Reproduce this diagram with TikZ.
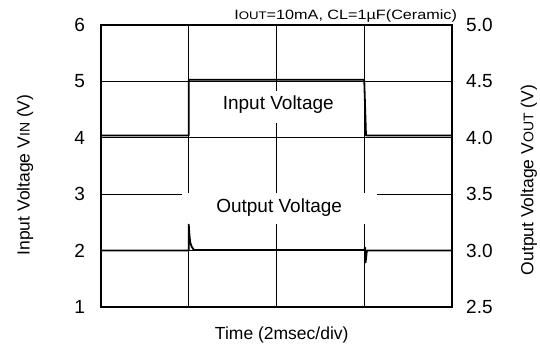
\documentclass[tikz,border=0pt]{standalone}
\usepackage{fontspec}
\setmainfont{Liberation Sans}
\usetikzlibrary{positioning}

\newcommand{\lowcaps}[2]{{\fontsize{#1}{#1}\selectfont #2}}

\begin{document}
\begin{tikzpicture}[x=87.75pt, y=56.4pt,
    frame/.style={line width=2.6pt},
    gridline/.style={line width=1.2pt},
    trace/.style={line width=1.8pt, line join=round},
    ticklabel/.style={inner sep=0pt, font=\fontsize{19}{21}\selectfont},
    curvelabel/.style={inner sep=0pt, font=\fontsize{19}{22}\selectfont},
    axislabel/.style={inner sep=0pt, rotate=90, font=\fontsize{17.5}{20}\selectfont}]

    \useasboundingbox (-1.151,0.291) rectangle (5.003,6.443);

    % grid
    \foreach \v in {2,4,5}
        \draw[gridline] (0,\v) -- (4,\v);
    \draw[gridline] (0,3) -- (0.92,3) (3.145,3) -- (4,3);
    \foreach \t in {1,3}
        \draw[gridline] (\t,1) -- (\t,2.47) (\t,3.02) -- (\t,6);
    \draw[gridline] (2,1) -- (2,2.47) (2,3.02) -- (2,4.26) (2,4.83) -- (2,6);

    \draw[frame] (0,1) rectangle (4,6);

    % traces
    \draw[trace] (0,4.04) -- (1,4.04) -- (1,5.03) -- (3,5.03) -- (3.02,4.04) -- (4,4.04);
    \draw[trace] (0,2) -- (1,2) -- (1,2.46) .. controls (1.015,2.1) .. (1.06,2.01) -- (3,2.01)
        -- (3.01,2.05) -- (3.015,1.79) -- (3.03,2.0) -- (4,2);

    % ticks
    \foreach \v in {1,...,6}
        \node[ticklabel, anchor=east] (vin_\v) at (-0.18,\v) {\v};
    \foreach \v/\lab in {1/2.5,2/3.0,3/3.5,4/4.0,5/4.5,6/5.0}
        \node[ticklabel, anchor=west] (vout_\v) at (4.16,\v) {\lab};

    \node[curvelabel] (in_label) at (2.02,4.58) {Input Voltage};
    \node[curvelabel] (out_label) at (2.03,2.755) {Output Voltage};

    \node[axislabel] (vin_axis) at (-0.866,3.34) {Input Voltage V\lowcaps{14}{IN} (V)};
    \node[axislabel] (vout_axis) at (4.877,3.25) {Output Voltage V\lowcaps{14}{OUT} (V)};
    \node[curvelabel, font=\fontsize{17.5}{20}\selectfont] (time_axis) at (2.06,0.503) {Time (2msec/div)};

    \node[inner sep=0pt, anchor=base east, xscale=1.2, font=\fontsize{13.5}{15}\selectfont]
        (cond) at (4.06,6.09) {I\lowcaps{11}{OUT}=10mA, CL=1\textmu F(Ceramic)};
\end{tikzpicture}
\end{document}
